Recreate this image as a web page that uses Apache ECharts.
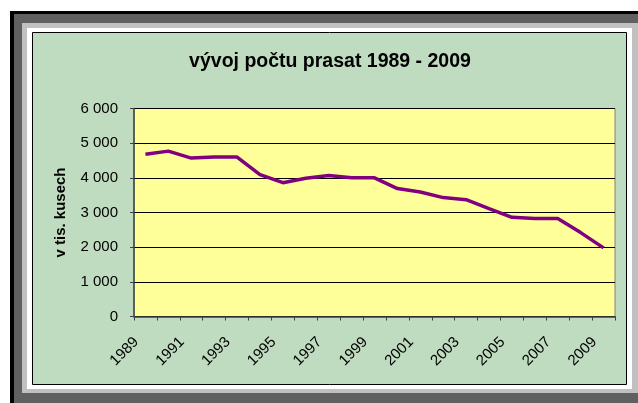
<!DOCTYPE html>
<html>
<head>
<meta charset="utf-8">
<script src="https://cdn.jsdelivr.net/npm/echarts@6/dist/echarts.min.js"></script>
<style>
html,body{margin:0;padding:0;background:#fff;}
#c{width:638px;height:403px;}
</style>
</head>
<body>
<div id="c"></div>
<script>
var years = ['1989','1990','1991','1992','1993','1994','1995','1996','1997','1998','1999','2000','2001','2002','2003','2004','2005','2006','2007','2008','2009'];
var pigs = [4680,4770,4570,4600,4600,4090,3860,3990,4070,4000,4000,3690,3590,3430,3370,3110,2860,2830,2830,2420,1980];
var titleText = 'vývoj počtu prasat 1989 - 2009';
var yAxisName = 'v tis. kusech';

var FONT = '"Liberation Sans", Arial, sans-serif';
var chart = echarts.init(document.getElementById('c'), null, {renderer:'canvas'});
chart.setOption({
  backgroundColor: '#ffffff',
  animation: false,
  title: {
    text: titleText,
    left: 325,
    textAlign: 'center',
    top: 47,
    textStyle: {fontFamily: FONT, fontSize: 19.5, fontWeight: 'bold', color: '#000'}
  },
  graphic: [
    {type:'rect', z:-100, shape:{x:10,y:11,width:640,height:400}, style:{fill:'#000000'}},
    {type:'rect', z:-99, shape:{x:14,y:14,width:640,height:400}, style:{fill:'#606060'}},
    {type:'rect', z:-98, shape:{x:22,y:23,width:630,height:370}, style:{fill:'#c0c0c0'}},
    {type:'rect', z:-97, shape:{x:27,y:28,width:605,height:361}, style:{fill:'#ffffff'}},
    {type:'rect', z:-96, shape:{x:32.5,y:32.5,width:594,height:352}, style:{fill:'#c0dcc0', stroke:'#000000', lineWidth:1}}
  ],
  grid: {
    left: 134, right: 23, top: 108.5, bottom: 86.5,
    show: true, backgroundColor: '#ffff99', borderColor: '#808080', borderWidth: 1
  },
  xAxis: {
    type: 'category',
    data: years,
    boundaryGap: true,
    axisLine: {show: true, lineStyle: {color: '#404040', width: 1.5}},
    axisTick: {show: true, interval: 0, length: 4, lineStyle: {color: '#404040'}},
    axisLabel: {interval: 1, rotate: 45, margin: 14, padding: [0, 13, 0, 0], fontFamily: FONT, fontSize: 15, color: '#000'},
    splitLine: {show: false}
  },
  yAxis: {
    type: 'value',
    min: 0, max: 6000, interval: 1000,
    name: yAxisName,
    nameLocation: 'middle',
    nameGap: 66,
    nameRotate: 90,
    nameTextStyle: {fontFamily: FONT, fontSize: 15, fontWeight: 'bold', color: '#000'},
    axisLine: {show: true, lineStyle: {color: '#404040', width: 1.5}},
    axisTick: {show: true, length: 4, lineStyle: {color: '#404040'}},
    axisLabel: {
      margin: 16, fontFamily: FONT, fontSize: 15, color: '#000',
      formatter: function(v){ return v >= 1000 ? Math.floor(v/1000) + ' ' + String(v%1000).padStart(3,'0') : String(v); }
    },
    splitLine: {show: true, lineStyle: {color: '#000', width: 1}}
  },
  series: [{
    type: 'line',
    data: pigs,
    showSymbol: false,
    symbol: 'none',
    lineStyle: {color: '#800080', width: 3.5},
    itemStyle: {color: '#800080'}
  }]
});
</script>
</body>
</html>
